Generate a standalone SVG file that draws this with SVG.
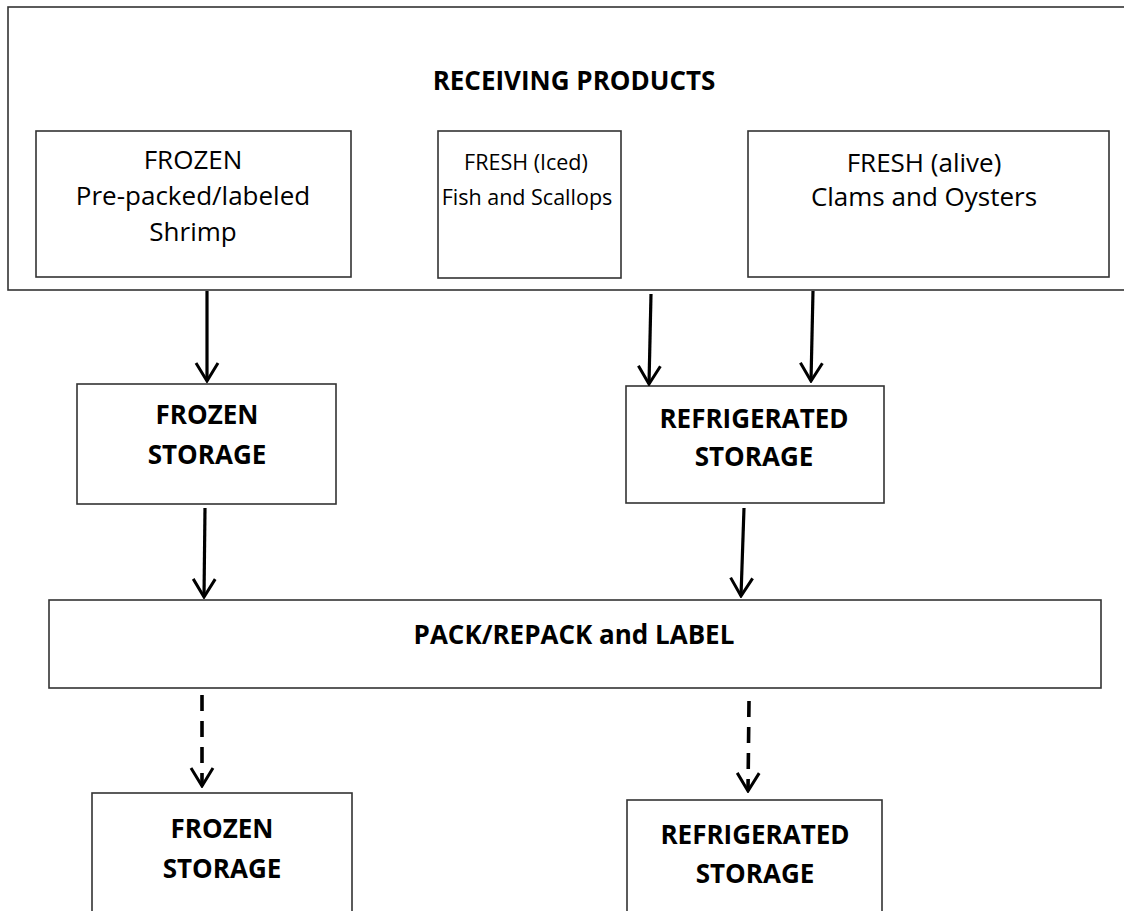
<svg xmlns="http://www.w3.org/2000/svg" width="1124" height="911" viewBox="0 0 1124 911">
<defs>
<style>
.box{fill:#fff;stroke:#333;stroke-width:1.6}
.t{font-family:"Open Sans","Liberation Sans",sans-serif;font-size:26px;fill:#000;text-anchor:middle}
.s{font-size:21.5px}
.b{font-family:"Open Sans","Liberation Sans",sans-serif;font-size:26px;font-weight:bold;fill:#000;text-anchor:middle}
.c{fill:none;stroke:#000;stroke-width:3.2}
.d{fill:none;stroke:#000;stroke-width:3.6;stroke-dasharray:16 10}
</style>
<marker id="ah" viewBox="-20 -13 22 26" refX="0" refY="0" markerWidth="22" markerHeight="26" markerUnits="userSpaceOnUse" orient="auto">
<path d="M-18,-11 L0,0 L-18,11" fill="none" stroke="#000" stroke-width="3"/>
</marker>
</defs>
<rect width="1124" height="911" fill="#fff"/>
<g id="receiving">
<rect class="box" x="8" y="7" width="1130" height="283"/>
<text class="b" x="574" y="90">RECEIVING PRODUCTS</text>
</g>
<g id="frozen-in">
<rect class="box" x="36" y="131" width="315" height="146"/>
<text class="t" x="193" y="169">FROZEN</text>
<text class="t" x="193" y="205">Pre-packed/labeled</text>
<text class="t" x="193" y="241">Shrimp</text>
</g>
<g id="fresh-iced">
<rect class="box" x="438" y="131" width="183" height="147"/>
<text class="t s" x="526" y="170">FRESH (Iced)</text>
<text class="t s" x="527" y="205">Fish and Scallops</text>
</g>
<g id="fresh-alive">
<rect class="box" x="748" y="131" width="361" height="146"/>
<text class="t" x="924" y="172">FRESH (alive)</text>
<text class="t" x="924" y="206">Clams and Oysters</text>
</g>
<g id="frozen-storage-1">
<rect class="box" x="77" y="384" width="259" height="120"/>
<text class="b" x="207" y="424">FROZEN</text>
<text class="b" x="207" y="464">STORAGE</text>
</g>
<g id="refrigerated-storage-1">
<rect class="box" x="626" y="386" width="258" height="117"/>
<text class="b" x="754" y="428">REFRIGERATED</text>
<text class="b" x="754" y="466">STORAGE</text>
</g>
<g id="pack">
<rect class="box" x="49" y="600" width="1052" height="88"/>
<text class="b" x="574" y="644">PACK/REPACK and LABEL</text>
</g>
<g id="frozen-storage-2">
<rect class="box" x="92" y="793" width="260" height="140"/>
<text class="b" x="222" y="838">FROZEN</text>
<text class="b" x="222" y="878">STORAGE</text>
</g>
<g id="refrigerated-storage-2">
<rect class="box" x="627" y="800" width="255" height="140"/>
<text class="b" x="755" y="844">REFRIGERATED</text>
<text class="b" x="755" y="883">STORAGE</text>
</g>
<g id="connectors">
<line class="c" x1="207" y1="291" x2="207" y2="381" marker-end="url(#ah)"/>
<line class="c" x1="651" y1="294" x2="649" y2="384" marker-end="url(#ah)"/>
<line class="c" x1="813" y1="291" x2="811" y2="381" marker-end="url(#ah)"/>
<line class="c" x1="205" y1="508" x2="204" y2="597" marker-end="url(#ah)"/>
<line class="c" x1="744" y1="508" x2="741" y2="596" marker-end="url(#ah)"/>
<line class="d" x1="202" y1="695" x2="202" y2="786" marker-end="url(#ah)"/>
<line class="d" x1="749" y1="701" x2="748" y2="791" marker-end="url(#ah)"/>
</g>
</svg>
